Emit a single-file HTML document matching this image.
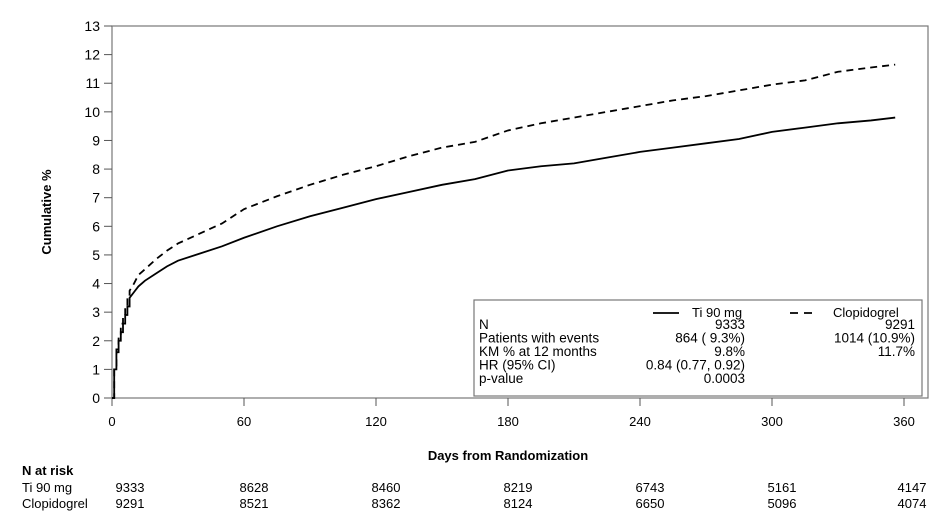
<!DOCTYPE html>
<html><head><meta charset="utf-8"><style>
body{margin:0;background:#fff;}
svg text{font-family:"Liberation Sans",Arial,sans-serif;fill:#000;}
</style></head><body>
<svg width="947" height="526" viewBox="0 0 947 526">
<g id="axes"></g><g id="series"></g><g id="legend"></g><g id="risk"></g>
</svg>
<script>
const days=[0,1,2,3,4,5,6,7,8,10,12,15,20,25,30,40,50,60,75,90,105,120,135,150,165,180,195,210,225,240,255,270,285,300,315,330,345,356];
const tica=[0,1,1.6,2,2.3,2.6,2.9,3.2,3.5,3.7,3.9,4.1,4.35,4.6,4.8,5.05,5.3,5.6,6.0,6.35,6.65,6.95,7.2,7.45,7.65,7.95,8.1,8.2,8.4,8.6,8.75,8.9,9.05,9.3,9.45,9.6,9.7,9.8];
const clop=[0,1,1.7,2.2,2.6,2.9,3.2,3.5,3.75,4.0,4.3,4.5,4.85,5.15,5.4,5.75,6.1,6.6,7.05,7.45,7.8,8.1,8.45,8.75,8.95,9.35,9.6,9.8,10.0,10.2,10.4,10.55,10.75,10.95,11.1,11.4,11.55,11.65];
const xTicks=[0,60,120,180,240,300,360];
const yTicks=[0,1,2,3,4,5,6,7,8,9,10,11,12,13];
const riskTica=[9333,8628,8460,8219,6743,5161,4147];
const riskClop=[9291,8521,8362,8124,6650,5096,4074];
const NS="http://www.w3.org/2000/svg";
const X0=112,X1=904,Y0=398,Y1=26;
const sx=d=>X0+(d/360)*(X1-X0);
const sy=v=>Y0-(v/13)*(Y0-Y1);
function mk(tag,attrs,parent,txt){const e=document.createElementNS(NS,tag);for(const k in attrs)e.setAttribute(k,attrs[k]);if(txt!==undefined)e.textContent=txt;parent.appendChild(e);return e;}
const ax=document.getElementById('axes');
let f=mk('rect',{x:X0,y:Y1,width:928-X0,height:Y0-Y1,fill:'none',stroke:'#777','stroke-width':1.2},ax);


yTicks.forEach(v=>{
 let l=mk('line',{x1:X0-8,x2:X0,y1:sy(v),y2:sy(v),stroke:'#555'},ax);
 
 
 let t=mk('text',{x:X0-12,y:sy(v)+5,'text-anchor':'end','font-size':14},ax,String(v));
 
 
});
xTicks.forEach(d=>{
 let l=mk('line',{x1:sx(d),x2:sx(d),y1:Y0,y2:Y0+8,stroke:'#555'},ax);
 
 
 let t=mk('text',{x:sx(d),y:426,'text-anchor':'middle','font-size':13},ax,String(d));
 
 
});
let yt=mk('text',{x:0,y:0,'font-size':13,'font-weight':'bold','text-anchor':'middle',transform:'translate(51,212) rotate(-90)'},ax,'Cumulative %');


let xt=mk('text',{x:508,y:460,'font-size':13,'font-weight':'bold','text-anchor':'middle'},ax,'Days from Randomization');


const se=document.getElementById('series');
function smoothPath(vals){let d='M'+sx(days[0])+','+sy(vals[0]);for(let i=1;i<days.length;i++){if(days[i]<=8)d+=' L'+sx(days[i])+','+sy(vals[i-1])+' L'+sx(days[i])+','+sy(vals[i]);else d+=' L'+sx(days[i])+','+sy(vals[i]);}return d;}
let p1=mk('path',{d:smoothPath(tica),fill:'none',stroke:'#000','stroke-width':1.8},se);


let p2=mk('path',{d:smoothPath(clop),fill:'none',stroke:'#000','stroke-width':1.8,'stroke-dasharray':'7,5'},se);


const lg=document.getElementById('legend');
let box=mk('rect',{x:474,y:300,width:448,height:96,fill:'#fff',stroke:'#777','stroke-width':1.2},lg);


let ll1=mk('line',{x1:653,x2:679,y1:313,y2:313,stroke:'#000','stroke-width':1.8},lg);


let ll2=mk('line',{x1:790,x2:814,y1:313,y2:313,stroke:'#000','stroke-width':1.8,'stroke-dasharray':'8,6'},lg);


let lt1=mk('text',{x:692,y:317,'font-size':13},lg,'Ti 90 mg');


let lt2=mk('text',{x:833,y:317,'font-size':13},lg,'Clopidogrel');


const rows=[['N','9333','9291'],['Patients with events','864 ( 9.3%)','1014 (10.9%)'],['KM % at 12 months','9.8%','11.7%'],['HR (95% CI)','0.84 (0.77, 0.92)',''],['p-value','0.0003','']];
rows.forEach((r,i)=>{const y=329+i*13.5;
 let a=mk('text',{x:479,y:y,'font-size':13.5},lg,r[0]);
 
 
 let b=mk('text',{x:745,y:y,'font-size':13.5,'text-anchor':'end'},lg,r[1]);
 
 
 let c=mk('text',{x:915,y:y,'font-size':13.5,'text-anchor':'end'},lg,r[2]);
 
 
});
const rk=document.getElementById('risk');
let nh=mk('text',{x:22,y:475,'font-size':13,'font-weight':'bold'},rk,'N at risk');


let r1=mk('text',{x:22,y:492,'font-size':13},rk,'Ti 90 mg');


let r2=mk('text',{x:22,y:508,'font-size':13},rk,'Clopidogrel');


xTicks.forEach((d,i)=>{
 const x=i===xTicks.length-1?sx(d)+8:sx(d)+(i===0?18:10);
 let a=mk('text',{x:x,y:492,'font-size':13,'text-anchor':'middle'},rk,String(riskTica[i]));
 
 
 let b=mk('text',{x:x,y:508,'font-size':13,'text-anchor':'middle'},rk,String(riskClop[i]));
 
 
});
</script>
</body></html>
